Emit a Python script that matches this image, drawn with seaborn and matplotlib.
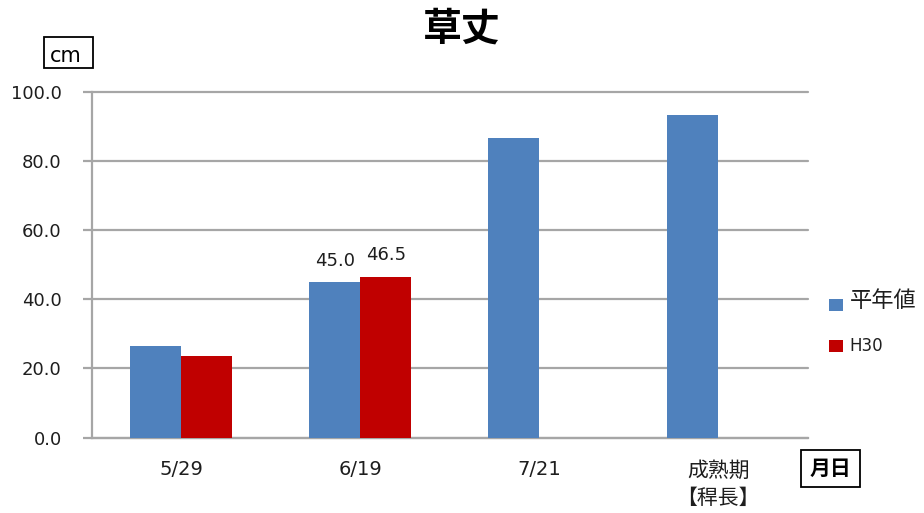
import matplotlib
matplotlib.use("Agg")
import matplotlib.pyplot as plt
import seaborn as sns
import pandas as pd
import numpy as np

# Plant height by survey date: normal-year average vs. H30
dates = ["5/29", "6/19", "7/21", "成熟期\n【稈長】"]
normal_year = [26.4, 45.0, 86.6, 93.3]
h30 = [23.6, 46.5, np.nan, np.nan]
series_names = ["平年値", "H30"]
labeled_date = "6/19"

colors = {"平年値": "#4F81BD", "H30": "#C00000"}
grid_gray = "#A6A6A6"
text_color = "#1E1E1E"

rows = []
for d, a, b in zip(dates, normal_year, h30):
    rows.append({"date": d, "series": series_names[0], "height": a})
    if not np.isnan(b):
        rows.append({"date": d, "series": series_names[1], "height": b})
df = pd.DataFrame(rows)

sns.set_theme(style="white")
plt.rcParams["font.family"] = ["DejaVu Sans", "Noto Sans CJK JP"]

fig = plt.figure(figsize=(9.24, 5.13), dpi=100)
ax = fig.add_axes([0.0996, 0.147, 0.7744, 0.674])

sns.barplot(data=df, x="date", y="height", hue="series", order=dates,
            hue_order=series_names, palette=colors, width=0.57, dodge=True,
            errorbar=None, saturation=1, ax=ax, legend=False, zorder=3,
            edgecolor="none")

ax.set_xlim(-0.5, len(dates) - 0.5)
ax.set_ylim(0, 100)
ax.set_yticks(np.arange(0, 101, 20))
ax.set_yticklabels([f"{v:.1f}" for v in np.arange(0, 101, 20)], fontsize=13,
                   color=text_color)
ax.yaxis.grid(True, color=grid_gray, linewidth=1.6, zorder=0)
for gl in ax.get_ygridlines():
    gl.set_clip_on(False)
ax.set_axisbelow(True)
ax.tick_params(axis="y", which="both", left=True, length=6.75, width=1.6,
               color=grid_gray, pad=15)
ax.tick_params(axis="x", bottom=False, pad=10)
ax.set_xticks(range(len(dates)))
ax.set_xticklabels(dates, fontsize=14, color=text_color, linespacing=1.3)
for lab in ax.get_xticklabels():
    lab.set_verticalalignment("top")
    if "成熟期" in lab.get_text():
        lab.set_fontsize(15)
        lab.set_family(["Noto Sans CJK JP"])
ax.set_xlabel("")
ax.set_ylabel("")

for side in ["top", "right"]:
    ax.spines[side].set_visible(False)
ax.spines["left"].set_color(grid_gray)
ax.spines["left"].set_linewidth(1.6)
ax.spines["bottom"].set_color(grid_gray)
ax.spines["bottom"].set_linewidth(1.6)

# value labels on the 6/19 pair
idx = dates.index(labeled_date)
for bars in ax.containers:
    for patch in bars:
        cx = patch.get_x() + patch.get_width() / 2
        if abs(cx - idx) < 0.5 and patch.get_height() > 0:
            ax.text(cx, patch.get_height() + 3.6, f"{patch.get_height():.1f}",
                    ha="center", va="bottom", fontsize=13, color=text_color)

fig.text(0.5, 0.943, "草丈", ha="center", va="center", fontsize=28,
         fontweight="bold", color="black", family=["Noto Sans CJK JP"])

# unit box
fig.patches.append(plt.Rectangle((0.0476, 0.8674), 0.053, 0.0604,
                                 transform=fig.transFigure, facecolor="white",
                                 edgecolor="black", linewidth=1.3))
fig.text(0.0714, 0.890, "cm", ha="center", va="center", fontsize=15,
         color="black", family=["DejaVu Sans"])

# axis name box
fig.patches.append(plt.Rectangle((0.8669, 0.0507), 0.0639, 0.0721,
                                 transform=fig.transFigure, facecolor="white",
                                 edgecolor="black", linewidth=1.3))
fig.text(0.8988, 0.0865, "月日", ha="center", va="center", fontsize=15,
         fontweight="bold", color="black", family=["Noto Sans CJK JP"])

# legend
legend_rows = [(series_names[0], 0.415, 0.405, 16), (series_names[1], 0.326, 0.326, 12)]
for name, ytxt, ysq, fs in legend_rows:
    fig.patches.append(plt.Rectangle((0.8975, ysq - 0.012), 0.0145, 0.024,
                                     transform=fig.transFigure,
                                     facecolor=colors[name], edgecolor="none"))
    fig.text(0.9195, ytxt, name, ha="left", va="center", fontsize=fs,
             color=text_color,
             family=["Noto Sans CJK JP"] if name != "H30" else ["DejaVu Sans"])

fig.savefig("out.png", dpi=100, facecolor="white")
